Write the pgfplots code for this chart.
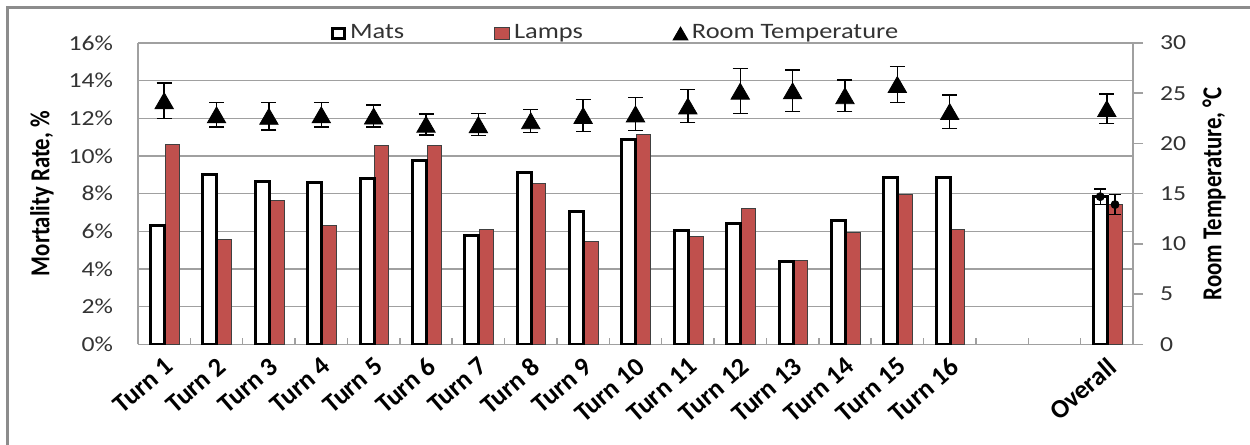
\documentclass[border=0pt]{standalone}
\usepackage{pgfplots}
\pgfplotsset{compat=1.18}
\usepackage{fontspec}
\setmainfont{Carlito}[FakeStretch=1.2]
\newfontfamily\plainfont{Carlito}
\definecolor{lampred}{HTML}{C0504D}
\definecolor{gridgray}{HTML}{A0A0A0}
\definecolor{txtgray}{HTML}{333333}

\begin{document}
\begin{tikzpicture}
\useasboundingbox (0,0) rectangle (625pt,222.5pt);
\draw[color=black!45, line width=1.5pt] (3.5pt,-2pt) -- (3.5pt,218.5pt) -- (627pt,218.5pt);

\pgfplotsset{
  common/.style={
    scale only axis, width=497.5pt, height=150.65pt,
    at={(69pt,50.35pt)}, anchor=south west,
    xmin=-0.5, xmax=18.5, ymin=0,
    axis line style={gridgray, line width=0.75pt},
    tick style={gridgray, line width=0.75pt},
    tick label style={font=\fontsize{10.7}{12}\selectfont, text=txtgray},
  },
}

% left axis: mortality
\begin{axis}[common, ymax=16,
  axis x line*=bottom, axis y line*=left,
  ytick={0,2,...,16}, yticklabels={0\%,2\%,4\%,6\%,8\%,10\%,12\%,14\%,16\%},
  ymajorgrids, grid style={gridgray, line width=0.75pt},
  xtick={0,...,15,18},
  xticklabels={Turn 1,Turn 2,Turn 3,Turn 4,Turn 5,Turn 6,Turn 7,Turn 8,Turn 9,Turn 10,Turn 11,Turn 12,Turn 13,Turn 14,Turn 15,Turn 16,Overall},
  minor xtick={0.5,1.5,...,17.5},
  tick align=inside, major tick length=0pt, minor tick length=3pt,
  yticklabel shift=9pt, xticklabel shift=1pt,
  x tick label style={font=\plainfont\bfseries\fontsize{13.2}{15}\selectfont, text=black, rotate=41, anchor=north east},
  ylabel={Mortality Rate, \%},
  every axis y label/.style={at={(axis description cs:-0.0965,0.5)}, rotate=90, yscale=1.2, anchor=center, font=\plainfont\bfseries\fontsize{11.4}{13}\selectfont},
]
% Lamps
\addplot[ybar, bar width=7pt, bar shift=4.1pt, fill=lampred, draw=black!75, line width=0.5pt] coordinates {
  (0,10.60) (1,5.59) (2,7.66) (3,6.30) (4,10.55) (5,10.55) (6,6.07) (7,8.55)
  (8,5.47) (9,11.13) (10,5.70) (11,7.19) (12,4.45) (13,5.95) (14,7.96) (15,6.07) (18,7.42)
};
% Mats
\addplot[ybar, bar width=7pt, bar shift=-3.3pt, fill=white, draw=black, line width=1.5pt] coordinates {
  (0,6.30) (1,9.04) (2,8.62) (3,8.57) (4,8.80) (5,9.75) (6,5.79) (7,9.10)
  (8,7.04) (9,10.87) (10,6.04) (11,6.44) (12,4.42) (13,6.57) (14,8.85) (15,8.85) (18,7.84)
};
% error bars of the overall bars
\addplot[only marks, mark=none, black, forget plot,
  error bars/.cd, y dir=both, y explicit,
  error bar style={black, line width=0.7pt},
  error mark options={rotate=90, mark size=3pt, line width=0.7pt, black}] coordinates {
  (17.874,7.84) +- (0,0.41)
  (18.157,7.42) +- (0,0.53)
};
\end{axis}

% right axis: temperature
\begin{axis}[common, ymax=30,
  axis x line=none, axis y line*=right,
  ytick={0,5,...,30}, yticklabels={0,5,10,15,20,25,30},
  tick align=outside, major tick length=5pt,
  yticklabel shift=5pt,
  ylabel={Room Temperature, °C},
  every axis y label/.style={at={(axis description cs:1.0814,0.5)}, rotate=90, yscale=1.2, anchor=center, font=\plainfont\bfseries\fontsize{11.4}{13}\selectfont},
  legend columns=3,
  legend style={at={(axis description cs:0.481,1.033)}, anchor=center, draw=none, fill=none,
    font=\fontsize{11}{12}\selectfont, text=txtgray,
    /tikz/every even column/.append style={column sep=43pt}},
]
\addlegendimage{legend image code/.code={\draw[black, fill=white, line width=1.5pt] (0.75pt,-2.5pt) rectangle (6.75pt,2.5pt);}}
\addlegendentry{Mats}
\addlegendimage{legend image code/.code={\draw[black!75, fill=lampred, line width=0.5pt] (0pt,-3pt) rectangle (7.5pt,3pt);}}
\addlegendentry{Lamps}
\addplot[only marks, mark=triangle*, mark size=5.3pt, black, mark options={yshift=-1.3pt},
  legend image code/.code={\draw[black] plot[mark=triangle*, mark size=4.3pt] coordinates {(3.7pt,0pt)};},
  error bars/.cd, y dir=both, y explicit,
  error bar style={black, line width=0.7pt},
  error mark options={rotate=90, mark size=3.75pt, line width=0.7pt, black}] coordinates {
  (0,24.25) +- (0,1.75)
  (1,22.84) +- (0,1.22)
  (2,22.69) +- (0,1.37)
  (3,22.84) +- (0,1.22)
  (4,22.72) +- (0,1.10)
  (5,21.90) +- (0,1.05)
  (6,21.86) +- (0,1.10)
  (7,22.25) +- (0,1.14)
  (8,22.78) +- (0,1.60)
  (9,22.93) +- (0,1.65)
  (10,23.72) +- (0,1.65)
  (11,25.20) +- (0,2.24)
  (12,25.23) +- (0,2.07)
  (13,24.74) +- (0,1.58)
  (14,25.86) +- (0,1.81)
  (15,23.16) +- (0,1.65)
  (18,23.46) +- (0,1.48)
};
\addlegendentry{Room Temperature}
\end{axis}
\end{tikzpicture}
\end{document}
